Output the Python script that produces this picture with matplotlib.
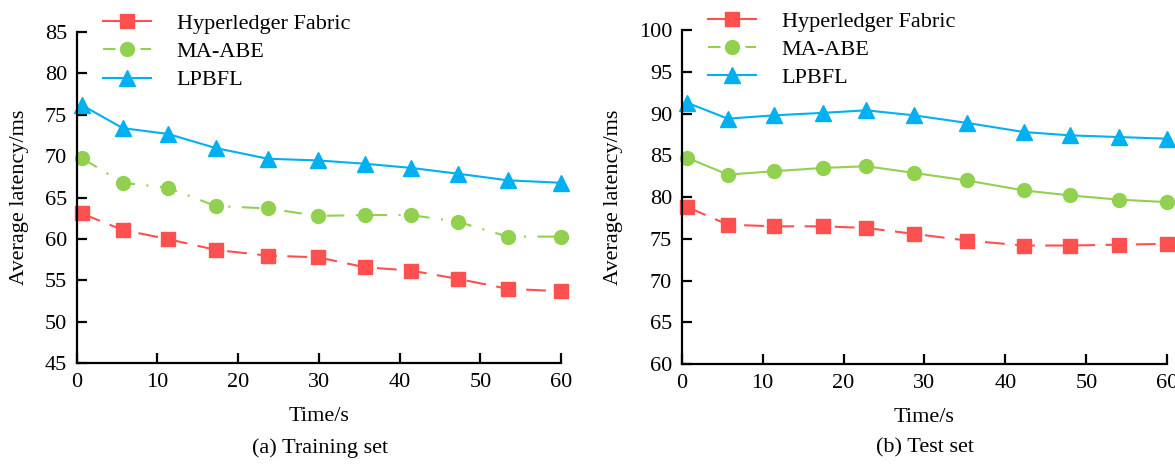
import matplotlib
matplotlib.use("Agg")
import matplotlib.pyplot as plt
from matplotlib.lines import Line2D

plt.rcParams["font.family"] = ["Liberation Serif", "DejaVu Serif"]
plt.rcParams["font.size"] = 16

# training set
train_t = [0.6, 5.7, 11.3, 17.2, 23.7, 29.9, 35.7, 41.4, 47.2, 53.4, 60.0]
train_fabric = [63.1, 61.1, 60.0, 58.7, 58.0, 57.8, 56.6, 56.2, 55.2, 54.0, 53.7]
train_maabe = [69.8, 66.8, 66.2, 64.0, 63.7, 62.8, 62.9, 62.9, 62.1, 60.3, 60.3]
train_lpbfl = [76.2, 73.4, 72.7, 71.0, 69.7, 69.5, 69.1, 68.6, 67.9, 67.1, 66.8]

# test set
test_t = [0.7, 5.7, 11.4, 17.5, 22.8, 28.7, 35.2, 42.3, 48.0, 54.0, 60.0]
test_fabric = [78.8, 76.7, 76.5, 76.5, 76.3, 75.6, 74.8, 74.2, 74.2, 74.3, 74.4]
test_maabe = [84.7, 82.7, 83.1, 83.5, 83.7, 82.9, 82.0, 80.8, 80.2, 79.7, 79.4]
test_lpbfl = [91.3, 89.4, 89.8, 90.1, 90.4, 89.8, 88.9, 87.8, 87.4, 87.2, 87.0]

x_ticks = [0, 10, 20, 30, 40, 50, 60]
labels = ["Hyperledger Fabric", "MA-ABE", "LPBFL"]
red, green, blue = "#FF5050", "#92D050", "#00B0F0"
red_dash = (9.5, 5)
green_dashdot = (8.5, 5.5, 1, 5.5)

fig = plt.figure(figsize=(11.75, 4.65), dpi=100)
ax1 = fig.add_axes([0.0653, 0.2187, 0.4122, 0.7123])
ax2 = fig.add_axes([0.5802, 0.2172, 0.4132, 0.7178])


def style_axis(ax, ylim, yticks, subtitle, xcenter):
    ax.set_xlim(0, 60)
    ax.set_ylim(*ylim)
    ax.set_xticks(x_ticks)
    ax.set_yticks(yticks)
    for side in ["top", "right"]:
        ax.spines[side].set_visible(False)
    for side in ["left", "bottom"]:
        ax.spines[side].set_linewidth(1.6)
    ax.tick_params(direction="in", length=7, width=1.6, labelsize=16, pad=7)
    ax.set_xlabel("Time/s", fontsize=16, labelpad=11)
    ax.set_ylabel("Average latency/ms", fontsize=16, labelpad=11)
    fig.text(xcenter, 0.036, subtitle, ha="center", va="center", fontsize=16)
    handles = [
        Line2D([], [], color=red, lw=1.5, marker="s", ms=10),
        Line2D([], [], color=green, lw=1.5, ls=(0, (6, 3)), marker="o", ms=10),
        Line2D([], [], color=blue, lw=1.5, marker="^", ms=11),
    ]
    ax.legend(handles, labels, loc="upper left", bbox_to_anchor=(0.022, 1.103),
              frameon=False, handlelength=2.15, handletextpad=1.17,
              labelspacing=0.34, fontsize=16, borderaxespad=0.3)


ax1.plot(train_t, train_fabric, color=red, lw=1.5, dashes=red_dash,
         marker="s", ms=10, clip_on=False)
ax1.plot(train_t, train_maabe, color=green, lw=1.5, dashes=green_dashdot,
         marker="o", ms=10, clip_on=False)
ax1.plot(train_t, train_lpbfl, color=blue, lw=1.5, marker="^", ms=11,
         clip_on=False)
style_axis(ax1, (45, 85), range(45, 86, 5), "(a) Training set", 0.272)

ax2.plot(test_t, test_fabric, color=red, lw=1.5, dashes=red_dash,
         marker="s", ms=10, clip_on=False)
ax2.plot(test_t, test_maabe, color=green, lw=1.5, marker="o", ms=10,
         clip_on=False)
ax2.plot(test_t, test_lpbfl, color=blue, lw=1.5, marker="^", ms=11,
         clip_on=False)
style_axis(ax2, (60, 100), range(60, 101, 5), "(b) Test set", 0.787)

fig.savefig("out.png", dpi=100)
